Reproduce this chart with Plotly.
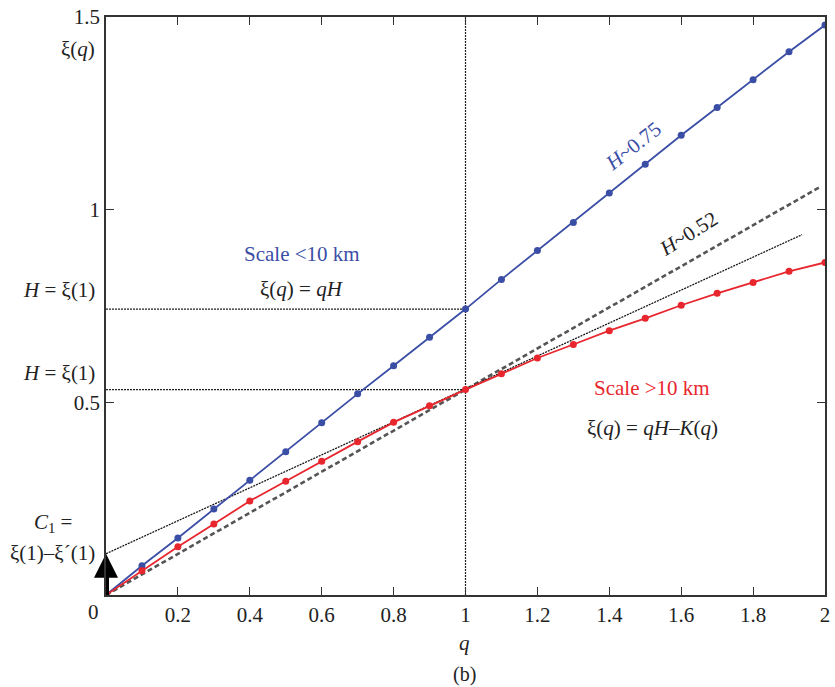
import plotly.graph_objects as go

# ---- data ----
q = [0.0, 0.1, 0.2, 0.3, 0.4, 0.5, 0.6, 0.7, 0.8, 0.9, 1.0,
     1.1, 1.2, 1.3, 1.4, 1.5, 1.6, 1.7, 1.8, 1.9, 2.0]
xi_small = [0.0, 0.076, 0.148, 0.223, 0.298, 0.372, 0.447, 0.522, 0.595, 0.669, 0.742,
            0.819, 0.894, 0.967, 1.043, 1.118, 1.193, 1.265, 1.337, 1.410, 1.479]
xi_large = [0.0, 0.063, 0.125, 0.184, 0.244, 0.295, 0.347, 0.398, 0.448, 0.491, 0.533,
            0.574, 0.615, 0.650, 0.686, 0.718, 0.752, 0.783, 0.811, 0.840, 0.863]
# reference straight lines
lin_q = [0.0, 1.99]
lin_xi = [0.0, 1.061]          # xi = q*H, H~0.533
tan_q = [0.0, 1.936]
tan_xi = [0.107, 0.935]        # tangent at q=1, intercept C1
H_small = 0.742
H_large = 0.533
C1 = 0.107

x_ticks = [0.2, 0.4, 0.6, 0.8, 1, 1.2, 1.4, 1.6, 1.8, 2]
x_labels = ["0.2", "0.4", "0.6", "0.8", "1", "1.2", "1.4", "1.6", "1.8", "2"]
y_ticks = [0.5, 1, 1.5]
y_labels = ["0.5", "1", "1.5"]

BLUE = "#3b4ea6"
RED = "#e8262e"
FONT = "Liberation Serif"

fig = go.Figure()

fig.add_trace(go.Scatter(x=lin_q, y=lin_xi, mode="lines",
                         line=dict(color="#555555", width=2.6, dash="5px,3px"),
                         hoverinfo="skip", showlegend=False))
fig.add_trace(go.Scatter(x=tan_q, y=tan_xi, mode="lines",
                         line=dict(color="#111111", width=1.3, dash="2px,1px"),
                         hoverinfo="skip", showlegend=False))
fig.add_trace(go.Scatter(x=q, y=xi_small, mode="lines+markers",
                         line=dict(color=BLUE, width=1.8),
                         marker=dict(color=BLUE, size=7),
                         showlegend=False))
fig.add_trace(go.Scatter(x=q, y=xi_large, mode="lines+markers",
                         line=dict(color=RED, width=1.8),
                         marker=dict(color=RED, size=7),
                         showlegend=False))

# dotted guide lines
fig.add_shape(type="line", x0=0, x1=1, y0=H_small, y1=H_small, xref="x", yref="y",
              line=dict(color="#222222", width=1.2, dash="2px,1px"), layer="below")
fig.add_shape(type="line", x0=0, x1=1, y0=H_large, y1=H_large, xref="x", yref="y",
              line=dict(color="#222222", width=1.2, dash="2px,1px"), layer="below")
fig.add_shape(type="line", x0=1, x1=1, y0=0, y1=1.5, xref="x", yref="y",
              line=dict(color="#222222", width=1.2, dash="2px,1px"), layer="below")

# arrow showing C1 (shaft + head)
fig.add_trace(go.Scatter(x=[0.0, 0.0], y=[-0.005, C1 - 0.03], mode="lines",
                         line=dict(color="black", width=6), cliponaxis=False,
                         hoverinfo="skip", showlegend=False))
fig.add_trace(go.Scatter(x=[0.0], y=[C1], mode="markers", cliponaxis=False,
                         marker=dict(symbol="arrow-up", size=24, color="black"),
                         hoverinfo="skip", showlegend=False))

W, H = 835, 687
L, R, T, B = 106, 5, 13, 92


def px(xp):
    return (xp - L) / (W - L - R)


def py(yp):
    return (H - B - yp) / (H - T - B)


def note(text, xp, yp, color="#222222", size=21, xanchor="center", angle=0):
    fig.add_annotation(x=px(xp), y=py(yp), xref="paper", yref="paper", text=text,
                       showarrow=False, xanchor=xanchor, yanchor="middle",
                       textangle=angle, font=dict(family=FONT, size=size, color=color))


note("ξ(<i>q</i>)", 97, 45, xanchor="right")
note("<i>H</i> = ξ(1)", 97, 288, xanchor="right")
note("<i>H</i> = ξ(1)", 97, 371, xanchor="right")
note("<i>C</i><sub>1</sub> =", 53, 522)
note("ξ(1)–ξ´(1)", 52, 553)
note("0", 93, 612)
note("Scale <10 km", 303, 252, color=BLUE)
note("ξ(<i>q</i>) = <i>qH</i>", 303, 287)
note("<i>H</i>~0.75", 637, 143, color=BLUE, angle=-38)
note("<i>H</i>~0.52", 692, 231, angle=-32)
note("Scale >10 km", 656, 387, color=RED)
note("ξ(<i>q</i>) = <i>qH</i>–<i>K</i>(<i>q</i>)", 656, 427)
note("<i>q</i>", 467, 643)
note("(b)", 467, 675, size=20)

axis_common = dict(showgrid=False, zeroline=False, showline=True, linecolor="#333333",
                   linewidth=1.5, mirror="ticks", ticks="inside", ticklen=8,
                   tickwidth=1.3, tickcolor="#333333",
                   tickfont=dict(family=FONT, size=21, color="#222222"))

fig.update_xaxes(range=[0, 2], tickvals=x_ticks, ticktext=x_labels, **axis_common)
fig.update_yaxes(range=[0, 1.5], tickvals=y_ticks, ticktext=y_labels, **axis_common)

fig.update_layout(width=W, height=H, margin=dict(l=L, r=R, t=T, b=B),
                  plot_bgcolor="white", paper_bgcolor="white",
                  font=dict(family=FONT, color="#222222"))

fig.write_html("out.html")
